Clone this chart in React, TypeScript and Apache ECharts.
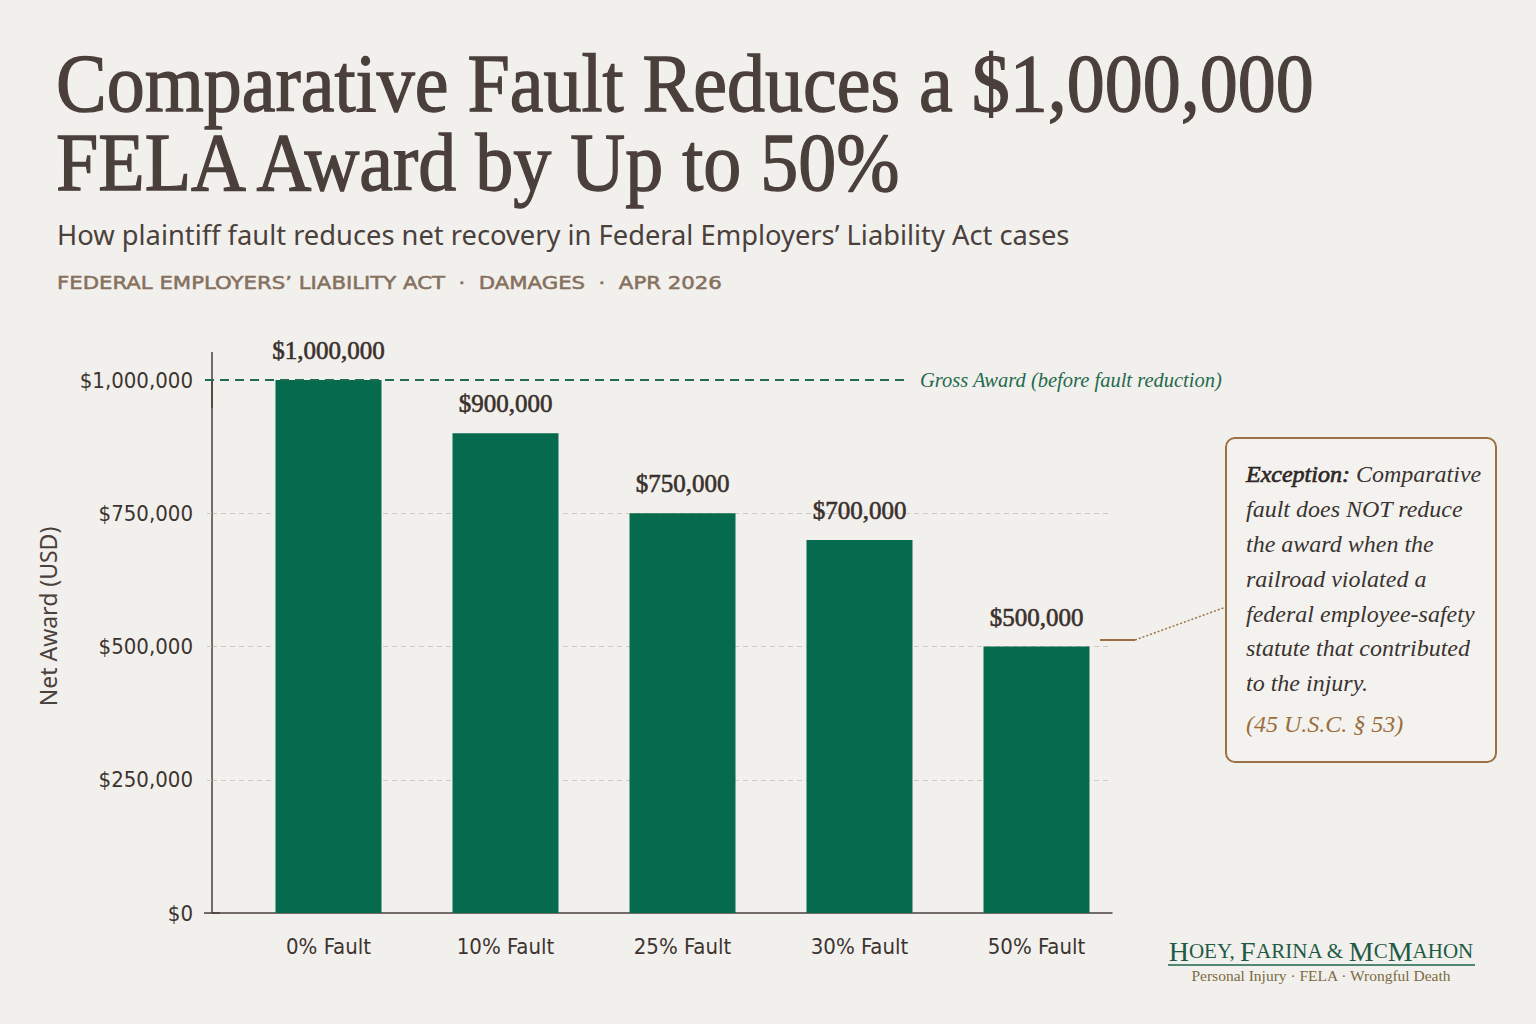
import { useEffect, useRef } from "react";
import * as echarts from "echarts";

// chart data
const CATEGORIES = ["0% Fault", "10% Fault", "25% Fault", "30% Fault", "50% Fault"];
const NET_AWARDS = [1000000, 900000, 750000, 700000, 500000];
const GROSS_AWARD = 1000000;
const Y_MIN = 0;
const Y_MAX = 1000000;
const Y_INTERVAL = 250000;

const TITLE_LINES = ["Comparative Fault Reduces a $1,000,000", "FELA Award by Up to 50%"];
const SUBTITLE = "How plaintiff fault reduces net recovery in Federal Employers\u2019 Liability Act cases";
const META = "FEDERAL EMPLOYERS\u2019 LIABILITY ACT  \u00b7  DAMAGES  \u00b7  APR 2026";
const GROSS_LABEL = "Gross Award (before fault reduction)";
const CALLOUT_LINES = [
  "{b|Exception:} Comparative",
  "fault does NOT reduce",
  "the award when the",
  "railroad violated a",
  "federal employee-safety",
  "statute that contributed",
  "to the injury.",
];
const CITATION = "(45 U.S.C. \u00a7 53)";
const TAGLINE = "Personal Injury \u00b7 FELA \u00b7 Wrongful Death";

const BG = "#f2f0ec";
const BAR = "#066a4f";
const GREEN = "#246a4e";
const BROWN = "#9a7046";
const GRID = "#cdcac4";
const SERIF = "'Liberation Serif', 'DejaVu Serif', serif";
const NARROW = "'DejaVu Sans Condensed', 'Roboto', sans-serif";
const SANS = "'Noto Sans', 'Open Sans', sans-serif";

function money(v: number) {
  return "$" + v.toLocaleString("en-US");
}

export default function App() {
  const ref = useRef<HTMLDivElement>(null);

  useEffect(() => {
    if (!ref.current) return;
    const chart = echarts.init(ref.current, undefined, { renderer: "svg" });

    const hiddenY = { type: "value", min: Y_MIN, max: Y_MAX, interval: Y_INTERVAL, show: false };

    chart.setOption({
      animation: false,
      backgroundColor: BG,
      grid: [
        { left: 212, top: 380, width: 900, height: 533 },
        { left: 240, top: 380, width: 885, height: 533 },
        { left: 205, top: 380, width: 705, height: 533 },
      ],
      xAxis: [
        {
          gridIndex: 0,
          type: "value",
          min: 0,
          max: 1,
          axisLine: {
            show: true,
            symbol: ["rect", "none"],
            symbolSize: [1.5, 16],
            lineStyle: { color: "#4a403c", width: 1.5 },
          },
          axisTick: { show: false },
          axisLabel: { show: false },
          splitLine: { show: false },
        },
        {
          gridIndex: 1,
          type: "category",
          data: CATEGORIES,
          axisLine: { show: false },
          axisTick: { show: false },
          axisLabel: { margin: 22, fontFamily: NARROW, fontSize: 22, color: "#3d3431" },
        },
        { gridIndex: 2, type: "value", min: 0, max: 1, show: false },
      ],
      yAxis: [
        {
          gridIndex: 0,
          type: "value",
          min: Y_MIN,
          max: Y_MAX,
          interval: Y_INTERVAL,
          name: "Net Award (USD)",
          nameLocation: "middle",
          nameGap: 153,
          nameTextStyle: { fontFamily: SANS, fontSize: 23, color: "#4a403c", padding: [0, 0, 0, 60] },
          axisLine: {
            show: true,
            symbol: ["none", "rect"],
            symbolSize: [1.5, 56],
            lineStyle: { color: "#4a403c", width: 1.5 },
          },
          axisTick: { show: true, length: 9, lineStyle: { color: GRID, type: [5, 4] } },
          axisLabel: {
            margin: 19,
            fontFamily: NARROW,
            fontSize: 22,
            color: "#3d3431",
            formatter: (v: number) => money(v),
          },
          splitLine: {
            show: true,
            showMinLine: false,
            showMaxLine: false,
            lineStyle: { color: GRID, type: [5, 4], width: 1 },
          },
        },
        { gridIndex: 1, ...hiddenY },
        { gridIndex: 2, ...hiddenY },
      ],
      series: [
        {
          type: "line",
          xAxisIndex: 2,
          yAxisIndex: 2,
          data: [],
          markLine: {
            silent: true,
            symbol: ["none", "none"],
            lineStyle: { color: GREEN, type: [9, 6], width: 2 },
            label: {
              position: "end",
              distance: 10,
              formatter: GROSS_LABEL,
              fontFamily: SERIF,
              fontStyle: "italic",
              fontSize: 20.5,
              color: GREEN,
              padding: [0, 0, 5, 0],
            },
            data: [{ yAxis: GROSS_AWARD }],
          },
        },
        {
          type: "bar",
          xAxisIndex: 1,
          yAxisIndex: 1,
          data: NET_AWARDS,
          barWidth: 106,
          itemStyle: { color: BAR },
          label: {
            show: true,
            position: "top",
            distance: 17,
            formatter: (p: { value: number }) => money(p.value),
            fontFamily: SERIF,
            fontSize: 25,
            color: "#3a302c",
            textBorderColor: "#3a302c",
            textBorderWidth: 0.6,
          },
        },
      ],
      graphic: [
        {
          type: "text",
          x: 56,
          y: 84,
          scaleY: 1.08,
          style: {
            text: TITLE_LINES[0],
            fontFamily: SERIF,
            fontSize: 76,
            fill: "#4a3f3a",
            stroke: "#4a3f3a",
            lineWidth: 1.2,
            verticalAlign: "middle",
          },
        },
        {
          type: "text",
          x: 56,
          y: 163,
          scaleY: 1.08,
          style: {
            text: TITLE_LINES[1],
            fontFamily: SERIF,
            fontSize: 76,
            fill: "#4a3f3a",
            stroke: "#4a3f3a",
            lineWidth: 1.2,
            verticalAlign: "middle",
          },
        },
        {
          type: "text",
          x: 57,
          y: 234,
          style: { text: SUBTITLE, fontFamily: SANS, fontSize: 27.3, fill: "#4a403c", verticalAlign: "middle" },
        },
        {
          type: "text",
          x: 57,
          y: 283,
          scaleX: 1.25,
          style: {
            text: META,
            fontFamily: "'DejaVu Sans', sans-serif",
            fontSize: 17,
            fill: "#86705f",
            stroke: "#86705f",
            lineWidth: 0.5,
            verticalAlign: "middle",
          },
        },
        // callout box
        {
          type: "rect",
          shape: { x: 1226, y: 438, width: 270, height: 324, r: 9 },
          style: { fill: "#f4f2ef", stroke: BROWN, lineWidth: 2 },
        },
        {
          type: "polyline",
          shape: { points: [[1100, 640], [1135, 640]] },
          style: { stroke: BROWN, lineWidth: 2, fill: "none" },
        },
        {
          type: "line",
          shape: { x1: 1135, y1: 640, x2: 1226, y2: 607 },
          style: { stroke: BROWN, lineWidth: 1.5, lineDash: [2, 2] },
        },
        {
          type: "text",
          x: 1246,
          y: 457,
          style: {
            text: CALLOUT_LINES.join("\n"),
            fontFamily: SERIF,
            fontStyle: "italic",
            fontSize: 24,
            lineHeight: 34.8,
            fill: "#3a3330",
            verticalAlign: "top",
            rich: {
              b: {
                fontFamily: SERIF,
                fontStyle: "italic",
                fontSize: 24,
                lineHeight: 34.8,
                fill: "#2e2826",
                stroke: "#2e2826",
                lineWidth: 0.7,
              },
            },
          },
        },
        {
          type: "text",
          x: 1246,
          y: 724,
          style: {
            text: CITATION,
            fontFamily: SERIF,
            fontStyle: "italic",
            fontSize: 24,
            fill: "#9a6e3c",
            verticalAlign: "middle",
          },
        },
        // logo
        {
          type: "text",
          x: 1321,
          y: 951,
          style: {
            text: "{L|H}{s|OEY, }{L|F}{s|ARINA & }{L|M}{s|C}{L|M}{s|AHON}",
            align: "center",
            verticalAlign: "middle",
            fontFamily: SERIF,
            fill: "#1f5a45",
            rich: {
              L: { fontFamily: SERIF, fontSize: 28, fill: "#1f5a45" },
              s: { fontFamily: SERIF, fontSize: 21, fill: "#1f5a45" },
            },
          },
        },
        {
          type: "line",
          shape: { x1: 1168, y1: 965, x2: 1475, y2: 965 },
          style: { stroke: "#4f8874", lineWidth: 2 },
        },
        {
          type: "text",
          x: 1321,
          y: 975,
          style: {
            text: TAGLINE,
            align: "center",
            verticalAlign: "middle",
            fontFamily: SERIF,
            fontSize: 15.5,
            fill: "#7b6b43",
          },
        },
      ],
    });

    return () => chart.dispose();
  }, []);

  return (
    <div
      ref={ref}
      style={{ position: "fixed", left: 0, top: 0, width: 1536, height: 1024 }}
    />
  );
}
